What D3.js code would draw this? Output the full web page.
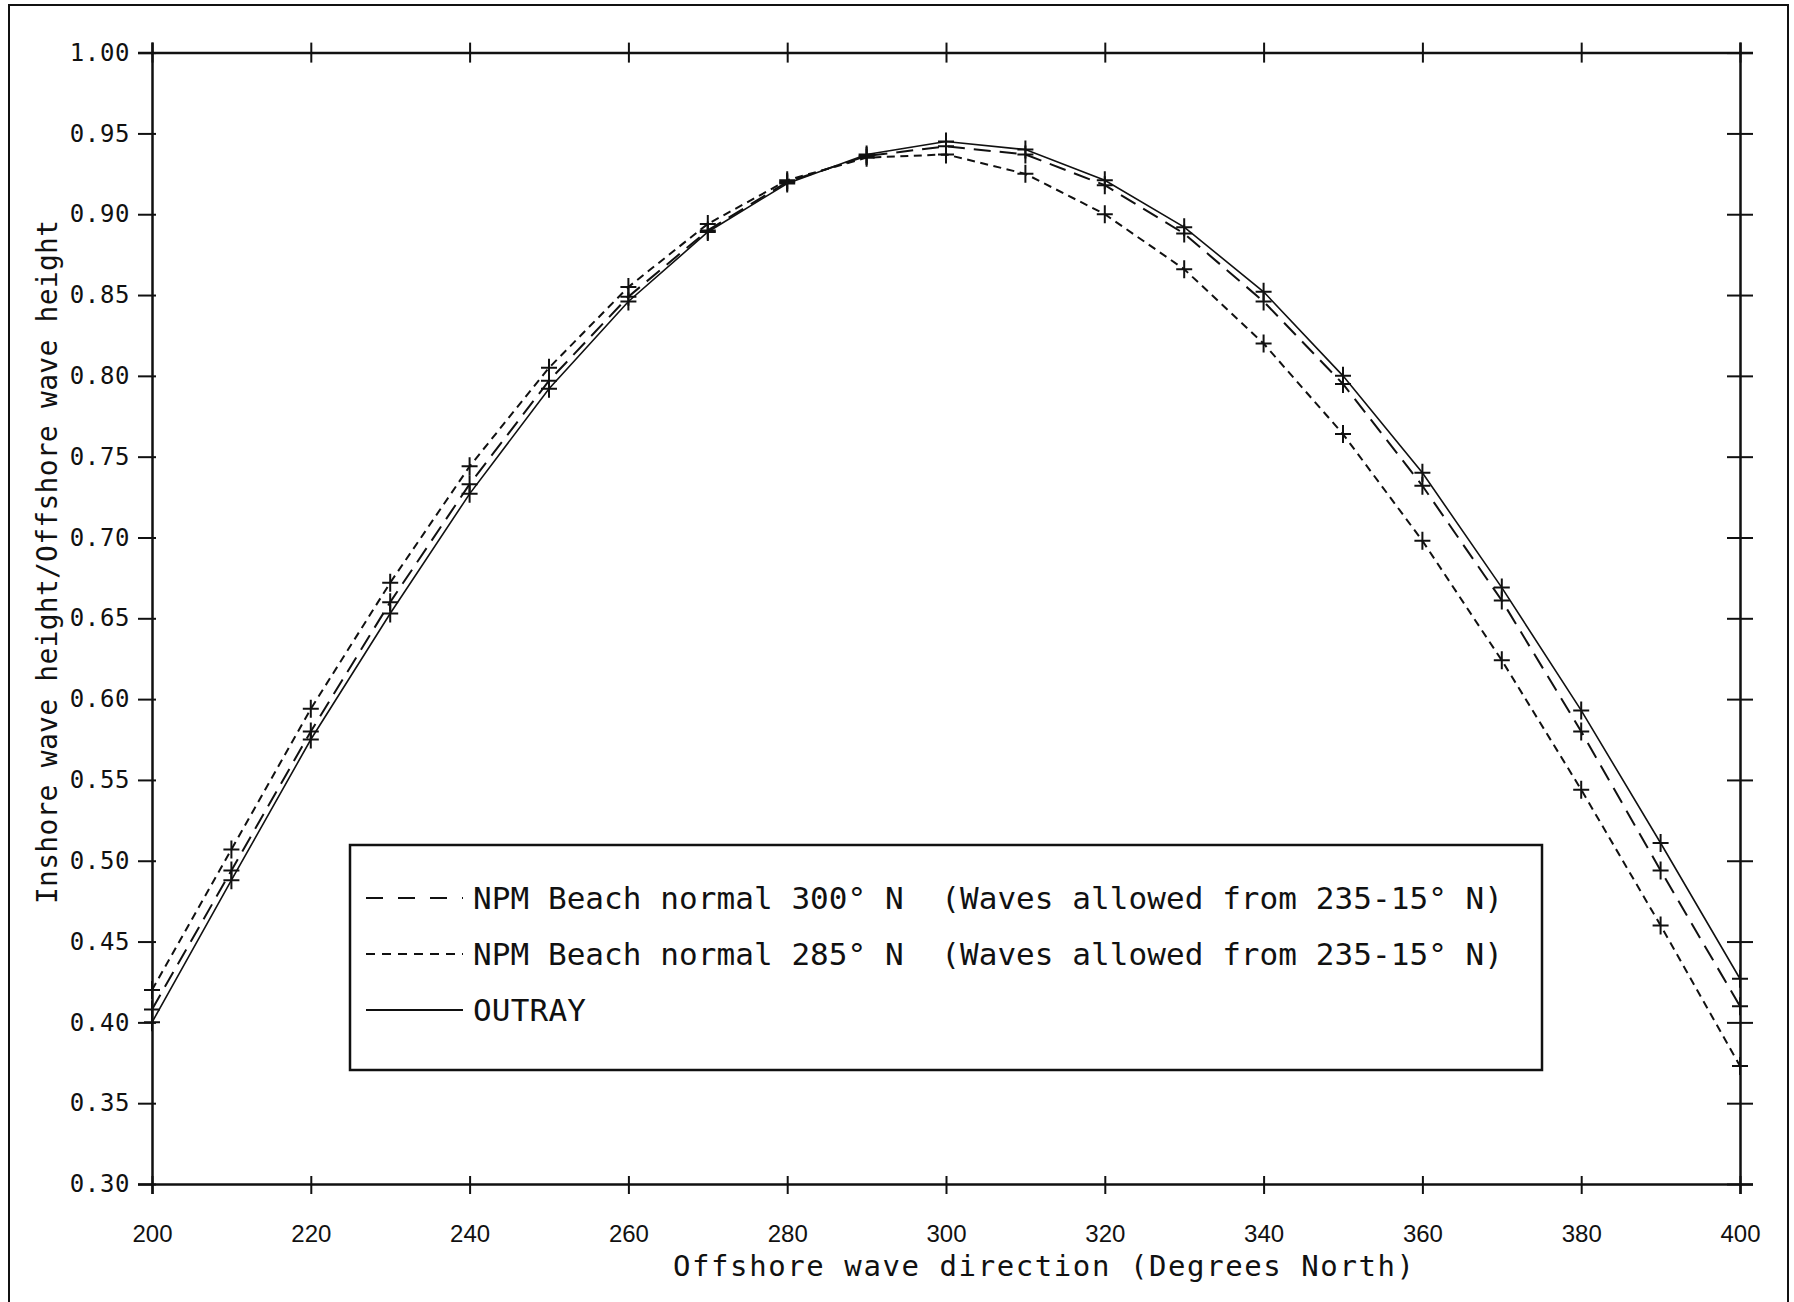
<!DOCTYPE html>
<html>
<head>
<meta charset="utf-8">
<script src="https://cdn.jsdelivr.net/npm/d3@7"></script>
<style>
  body { margin: 0; background: #fff; }
  svg { display: block; }
</style>
</head>
<body>
<script>
// data
const directions = [200, 210, 220, 230, 240, 250, 260, 270, 280, 290, 300,
  310, 320, 330, 340, 350, 360, 370, 380, 390, 400];

const outray = [0.400, 0.488, 0.575, 0.653, 0.727, 0.792, 0.846, 0.889, 0.919, 0.937, 0.945,
  0.940, 0.921, 0.892, 0.852, 0.800, 0.740, 0.669, 0.593, 0.511, 0.427];

const npm300 = [0.408, 0.494, 0.580, 0.660, 0.733, 0.797, 0.849, 0.890, 0.920, 0.936, 0.942,
  0.937, 0.918, 0.888, 0.846, 0.795, 0.732, 0.661, 0.580, 0.494, 0.410];

const npm285 = [0.420, 0.507, 0.594, 0.672, 0.744, 0.805, 0.855, 0.894, 0.921, 0.935, 0.937,
  0.925, 0.900, 0.866, 0.820, 0.764, 0.698, 0.624, 0.544, 0.460, 0.373];

const xTicks = [200, 220, 240, 260, 280, 300, 320, 340, 360, 380, 400];
const yTicks = [0.30, 0.35, 0.40, 0.45, 0.50, 0.55, 0.60, 0.65, 0.70, 0.75, 0.80, 0.85, 0.90, 0.95, 1.00];

const legendLabels = [
  "NPM Beach normal 300\u00b0 N  (Waves allowed from 235-15\u00b0 N)",
  "NPM Beach normal 285\u00b0 N  (Waves allowed from 235-15\u00b0 N)",
  "OUTRAY"
];

// chart
const w = 1794;
const h = 1302;
const padLeft = 152, padRight = 1740, padTop = 52.6, padBottom = 1184;
const mono = "'DejaVu Sans Mono', monospace";

const xScale = d3.scaleLinear().domain([200, 400]).range([padLeft, padRight]);
const yScale = d3.scaleLinear().domain([0.30, 1.00]).range([padBottom, padTop]);

const svg = d3.select("body").append("svg").attr("width", w).attr("height", h);

// scan frame
svg.append("path")
  .attr("d", "M9," + h + " V5 H1788 V" + h)
  .attr("fill", "none").attr("stroke", "#111").attr("stroke-width", 2);

// axes (ticks crossing the line, as on the plotter output)
const xAxisBottom = d3.axisBottom(xScale).tickValues(xTicks).tickSize(10).tickFormat(d3.format("d"));
const gxb = svg.append("g").attr("transform", "translate(0," + padBottom + ")").call(xAxisBottom);
gxb.selectAll(".tick line").attr("y1", -8);
gxb.selectAll(".tick text")
  .attr("y", 0).attr("dy", 0)
  .attr("transform", "translate(0,58)")
  .style("font-family", "'Liberation Sans', sans-serif").style("font-size", "24px");

const xAxisTop = d3.axisTop(xScale).tickValues(xTicks).tickSize(10).tickFormat("");
const gxt = svg.append("g").attr("transform", "translate(0," + padTop + ")").call(xAxisTop);
gxt.selectAll(".tick line").attr("y1", 10);

const yAxisLeft = d3.axisLeft(yScale).tickValues(yTicks).tickSize(14).tickFormat(d3.format(".2f"));
const gyl = svg.append("g").attr("transform", "translate(" + padLeft + ",0)").call(yAxisLeft);
gyl.selectAll(".tick line").attr("x1", 4);
gyl.selectAll(".tick text")
  .attr("x", -22)
  .style("font-family", mono).style("font-size", "24px").style("letter-spacing", "0.6px");

const yAxisRight = d3.axisRight(yScale).tickValues(yTicks).tickSize(13).tickFormat("");
const gyr = svg.append("g").attr("transform", "translate(" + padRight + ",0)").call(yAxisRight);
gyr.selectAll(".tick line").attr("x1", -13);

svg.selectAll(".domain").attr("stroke", "#111").attr("stroke-width", 2.5);
svg.selectAll(".tick line").attr("stroke", "#111").attr("stroke-width", 2);
svg.selectAll(".tick text").attr("fill", "#111");

// series
const series = [
  { name: legendLabels[0], values: npm300, dash: "17,9", legDash: "17,15", width: 2, len: 1030 },
  { name: legendLabels[1], values: npm285, dash: "8,5.5", legDash: "9,7", width: 2, len: 1030 },
  { name: legendLabels[2], values: outray, dash: null, legDash: null, width: 1.6, len: 113 }
];

const line = d3.line()
  .x((d, i) => xScale(directions[i]))
  .y((d) => yScale(d));

series.forEach(function (s) {
  svg.append("path")
    .datum(s.values)
    .attr("d", line)
    .attr("fill", "none")
    .attr("stroke", "#111")
    .attr("stroke-width", s.width)
    .attr("stroke-dasharray", s.dash);

  const marks = svg.append("g");
  marks.selectAll("path")
    .data(s.values)
    .enter()
    .append("path")
    .attr("d", function (d, i) {
      const cx = xScale(directions[i]);
      const cy = yScale(d);
      return "M" + (cx - 8) + "," + cy + "H" + (cx + 8) + "M" + cx + "," + (cy - 9) + "V" + (cy + 9);
    })
    .attr("stroke", "#111")
    .attr("stroke-width", 2);
});

// legend
const legend = svg.append("g");
legend.append("rect")
  .attr("x", 350).attr("y", 845).attr("width", 1192).attr("height", 225)
  .attr("fill", "#fff").attr("stroke", "#111").attr("stroke-width", 2.5);

series.forEach(function (s, i) {
  const ly = 898 + i * 56;
  legend.append("line")
    .attr("x1", 366).attr("x2", 463).attr("y1", ly).attr("y2", ly)
    .attr("stroke", "#111").attr("stroke-width", 2)
    .attr("stroke-dasharray", s.legDash);
  legend.append("text")
    .attr("x", 473).attr("y", ly + 11)
    .attr("textLength", s.len).attr("lengthAdjust", "spacing")
    .style("white-space", "pre")
    .style("font-family", mono).style("font-size", "31px")
    .attr("fill", "#111")
    .text(s.name);
});

// axis titles
svg.append("text")
  .attr("x", 673).attr("y", 1276)
  .attr("textLength", 741).attr("lengthAdjust", "spacing")
  .style("font-family", mono).style("font-size", "29px").attr("fill", "#111")
  .text("Offshore wave direction (Degrees North)");

svg.append("text")
  .attr("transform", "translate(57,904) rotate(-90)")
  .attr("textLength", 684).attr("lengthAdjust", "spacing")
  .style("font-family", mono).style("font-size", "28px").attr("fill", "#111")
  .text("Inshore wave height/Offshore wave height");
</script>
</body>
</html>
